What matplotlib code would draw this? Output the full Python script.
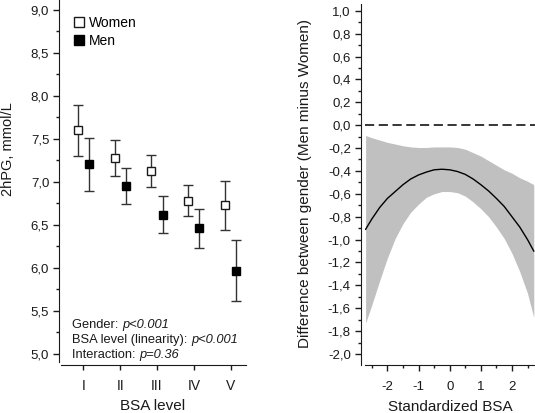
import matplotlib
matplotlib.use("Agg")
import matplotlib.pyplot as plt
from matplotlib.lines import Line2D
from matplotlib.ticker import MultipleLocator, FuncFormatter

plt.rcParams['font.family'] = ['Liberation Sans', 'DejaVu Sans']
plt.rcParams['axes.unicode_minus'] = False

# Left panel: 2hPG by BSA level
levels = ['I', 'II', 'III', 'IV', 'V']
women_mean = [7.60, 7.275, 7.13, 6.78, 6.73]
women_lo = [7.30, 7.07, 6.945, 6.60, 6.445]
women_hi = [7.90, 7.49, 7.31, 6.96, 7.01]
men_mean = [7.205, 6.95, 6.62, 6.46, 5.97]
men_lo = [6.90, 6.74, 6.41, 6.235, 5.62]
men_hi = [7.515, 7.16, 6.84, 6.69, 6.325]

# Right panel: difference Men minus Women vs standardized BSA
bsa = [-2.7, -2.5, -2.25, -2.0, -1.75, -1.5, -1.25, -1.0, -0.75, -0.5, -0.25, 0.0,
       0.25, 0.5, 0.75, 1.0, 1.25, 1.5, 1.75, 2.0, 2.25, 2.5, 2.7]
diff = [-0.91, -0.82, -0.72, -0.64, -0.58, -0.52, -0.47, -0.435, -0.41, -0.39, -0.385, -0.39,
        -0.405, -0.43, -0.47, -0.52, -0.575, -0.64, -0.71, -0.80, -0.89, -1.00, -1.10]
diff_hi = [-0.09, -0.11, -0.13, -0.15, -0.165, -0.18, -0.19, -0.195, -0.195, -0.19, -0.19, -0.19,
           -0.195, -0.21, -0.24, -0.27, -0.31, -0.35, -0.39, -0.42, -0.46, -0.49, -0.52]
diff_lo = [-1.73, -1.57, -1.36, -1.16, -0.99, -0.86, -0.76, -0.69, -0.63, -0.60, -0.58, -0.58,
           -0.59, -0.62, -0.67, -0.73, -0.80, -0.89, -0.99, -1.12, -1.28, -1.47, -1.68]

W, H = 535, 413
fig = plt.figure(figsize=(W / 100, H / 100), dpi=100)
ink = '#1a1a1a'
comma = FuncFormatter(lambda v, p: f"{v:.1f}".replace('.', ','))

# ---- left panel
ax1 = fig.add_axes([61 / W, (H - 362) / H, 185 / W, 362 / H])
pos = range(1, len(levels) + 1)
xw = [p - 0.15 for p in pos]
xm = [p + 0.15 for p in pos]
ew = [[m - l for m, l in zip(women_mean, women_lo)], [h - m for m, h in zip(women_mean, women_hi)]]
em = [[m - l for m, l in zip(men_mean, men_lo)], [h - m for m, h in zip(men_mean, men_hi)]]
ax1.errorbar(xw, women_mean, yerr=ew, fmt='s', ms=6, mfc='white', mec=ink, mew=1,
             ecolor='#333333', elinewidth=1, capsize=3.8, capthick=1, zorder=3)
ax1.errorbar(xm, men_mean, yerr=em, fmt='s', ms=6, mfc='black', mec='black', mew=1,
             ecolor='#333333', elinewidth=1, capsize=3.8, capthick=1, zorder=3)
ax1.set_xlim(0.395, 5.415)
ax1.set_ylim(4.907, 9.116)
ax1.set_xticks(list(pos))
ax1.set_xticklabels(levels, fontsize=10)
ax1.yaxis.set_major_locator(MultipleLocator(0.5))
ax1.yaxis.set_minor_locator(MultipleLocator(0.25))
ax1.yaxis.set_major_formatter(comma)
ax1.tick_params(axis='y', labelsize=9.5, length=4, width=1, pad=3, colors=ink)
ax1.tick_params(axis='y', which='minor', length=2.5, width=1, colors=ink)
ax1.tick_params(axis='x', length=3.5, width=1, pad=6.5, colors=ink)
ax1.spines['top'].set_visible(False)
ax1.spines['right'].set_visible(False)
ax1.spines['left'].set_position(('outward', 1.5))
ax1.spines['bottom'].set_position(('outward', 2.2))
for s in ('left', 'bottom'):
    ax1.spines[s].set_color(ink)

handles = [Line2D([], [], marker='s', ls='none', ms=6.5, mfc='white', mec=ink, mew=1),
           Line2D([], [], marker='s', ls='none', ms=6.5, mfc='black', mec='black', mew=1)]
ax1.legend(handles, ['Women', 'Men'], loc='upper left', bbox_to_anchor=(0.07, 0.956),
           frameon=False, fontsize=10, borderaxespad=0, borderpad=0,
           handlelength=0.7, handletextpad=0.35, labelspacing=0.3)

# p-value notes, italic part chained after the plain part
notes = [("Gender: ", "p<0.001", 0.0939),
         ("BSA level (linearity): ", "p<0.001", 0.0525),
         ("Interaction: ", "p=0.36", 0.011)]
for plain, ital, yy in notes:
    t = ax1.text(0.0595, yy, plain, transform=ax1.transAxes, fontsize=9.3, color=ink,
                 va='baseline', ha='left')
    ax1.annotate(ital, xy=(1, 0), xycoords=t, fontsize=9.3, style='italic', color=ink,
                 va='bottom', ha='left')

# ---- right panel
ax2 = fig.add_axes([365 / W, (H - 365) / H, 170 / W, 361 / H])
ax2.fill_between(bsa, diff_lo, diff_hi, color='#c0c0c0', lw=0, zorder=1)
ax2.plot(bsa, diff, color='black', lw=1, zorder=2)
ax2.axhline(0, color='black', lw=1.1, dashes=(6, 3), zorder=2)
ax2.set_xlim(-2.72, 2.74)
ax2.set_ylim(-2.096, 1.059)
ax2.xaxis.set_major_locator(MultipleLocator(1))
ax2.xaxis.set_minor_locator(MultipleLocator(0.5))
ax2.yaxis.set_major_locator(MultipleLocator(0.2))
ax2.yaxis.set_minor_locator(MultipleLocator(0.1))
ax2.yaxis.set_major_formatter(comma)
ax2.xaxis.set_major_formatter(FuncFormatter(lambda v, p: f"{v:.0f}"))
ax2.tick_params(axis='both', labelsize=9.5, length=4, width=1, colors=ink)
ax2.tick_params(axis='y', pad=3)
ax2.tick_params(axis='x', pad=7.5)
ax2.tick_params(which='minor', length=2.5, width=1, colors=ink)
ax2.spines['top'].set_visible(False)
ax2.spines['right'].set_visible(False)
ax2.spines['left'].set_position(('outward', 3.2))
for s in ('left', 'bottom'):
    ax2.spines[s].set_color(ink)

# axis titles
fig.text(8 / W, 1 - 149 / H, "2hPG, mmol/L", rotation=90, ha='center', va='center',
         fontsize=10.5, color=ink)
fig.text(305.5 / W, 1 - 184 / H, "Difference between gender (Men minus Women)", rotation=90,
         ha='center', va='center', fontsize=11, color=ink)
fig.text(153 / W, 1 - 410.5 / H, "BSA level", ha='center', va='baseline', fontsize=11, color=ink)
fig.text(450 / W, 1 - 411 / H, "Standardized BSA", ha='center', va='baseline', fontsize=11, color=ink)

fig.savefig("out.png", dpi=100)
